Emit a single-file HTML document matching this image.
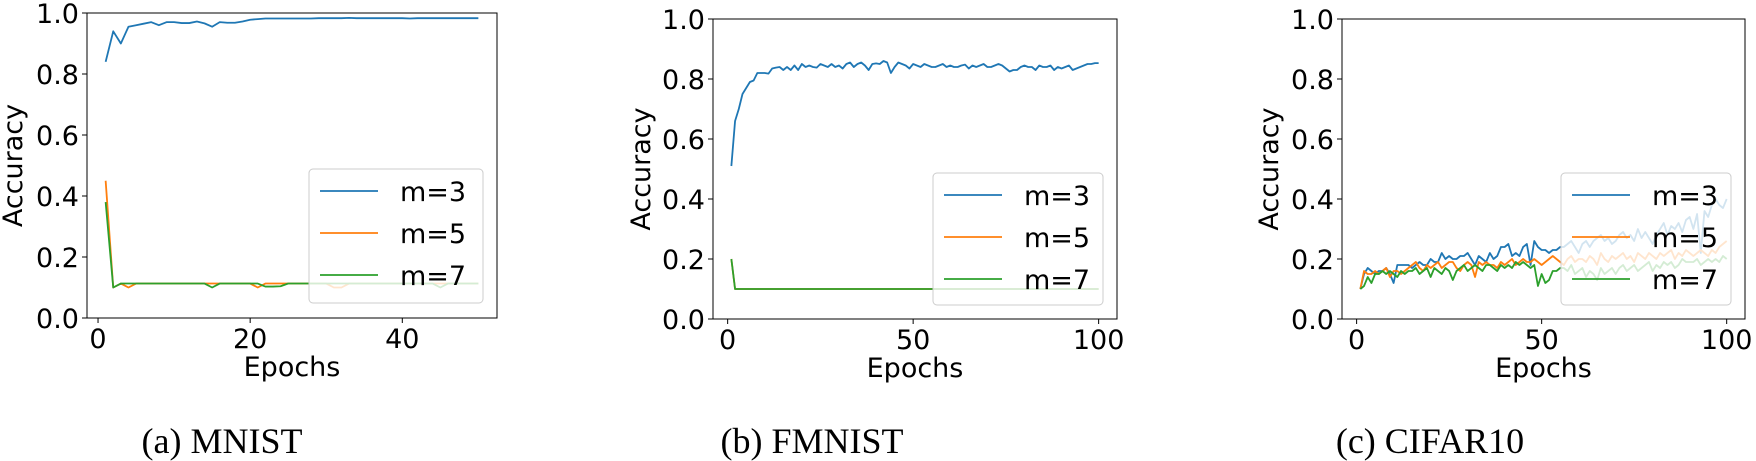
<!DOCTYPE html>
<html><head><meta charset="utf-8"><style>
html,body{margin:0;padding:0;background:#fff;}
svg{display:block;font-family:"DejaVu Sans","Liberation Sans",sans-serif;}
</style></head><body>
<svg id="fig" width="1756" height="461" viewBox="0 0 1756 461"></svg>
<script>
const labels = ["m=3","m=5","m=7"];
const colors = ["#1f77b4","#ff7f0e","#2ca02c"];
const yTicks = [0,0.2,0.4,0.6,0.8,1.0];
const xTicksA = [0,20,40];
const xTicksB = [0,50,100];
const captions = ["(a) MNIST","(b) FMNIST","(c) CIFAR10"];

const mnistM3 = [.84,.94,.90,.955,.96,.965,.97,.96,.97,.97,.967,.967,.972,.966,.955,.97,.968,.968,.972,.978,.98,.982,.982,.982,.982,.982,.982,.982,.983,.983,.983,.983,.984,.983,.983,.983,.983,.983,.983,.983,.982,.983,.983,.983,.983,.983,.983,.983,.983,.983];
const mnistM5 = [.45,.10,.113,.10,.113,.113,.113,.113,.113,.113,.113,.113,.113,.113,.113,.113,.113,.113,.113,.113,.10,.113,.113,.113,.113,.113,.113,.113,.113,.113,.10,.10,.113,.113,.113,.113,.113,.113,.113,.113,.113,.113,.113,.113,.113,.113,.113,.113,.113,.113];
const mnistM7 = [.38,.10,.113,.113,.113,.113,.113,.113,.113,.113,.113,.113,.113,.113,.10,.113,.113,.113,.113,.113,.113,.103,.103,.104,.113,.113,.113,.113,.113,.113,.113,.113,.113,.113,.113,.113,.113,.113,.113,.113,.113,.113,.113,.113,.10,.113,.113,.113,.113,.113];

const fmM3 = [.51,.66,.70,.75,.77,.79,.795,.82,.82,.82,
.818,.835,.838,.84,.83,.84,.83,.845,.83,.85,
.84,.845,.84,.838,.85,.845,.84,.85,.84,.845,
.835,.85,.855,.84,.85,.855,.845,.83,.85,.852,
.85,.86,.855,.82,.84,.855,.85,.845,.835,.85,
.845,.84,.85,.845,.84,.84,.845,.85,.84,.845,
.84,.84,.845,.848,.835,.845,.84,.845,.85,.84,
.84,.845,.85,.845,.835,.825,.83,.83,.84,.845,
.84,.84,.83,.845,.84,.84,.845,.83,.84,.835,
.84,.845,.83,.835,.84,.845,.85,.85,.853,.853];
const fmM5 = [.2,.1,.1,.1,.1,.1,.1,.1,.1,.1,.1,.1,.1,.1,.1,.1,.1,.1,.1,.1,.1,.1,.1,.1,.1,.1,.1,.1,.1,.1,.1,.1,.1,.1,.1,.1,.1,.1,.1,.1,.1,.1,.1,.1,.1,.1,.1,.1,.1,.1,.1,.1,.1,.1,.1,.1,.1,.1,.1,.1,.1,.1,.1,.1,.1,.1,.1,.1,.1,.1,.1,.1,.1,.1,.1,.1,.1,.1,.1,.1,.1,.1,.1,.1,.1,.1,.1,.1,.1,.1,.1,.1,.1,.1,.1,.1,.1,.1,.1,.1];
const fmM7 = [.2,.1,.1,.1,.1,.1,.1,.1,.1,.1,.1,.1,.1,.1,.1,.1,.1,.1,.1,.1,.1,.1,.1,.1,.1,.1,.1,.1,.1,.1,.1,.1,.1,.1,.1,.1,.1,.1,.1,.1,.1,.1,.1,.1,.1,.1,.1,.1,.1,.1,.1,.1,.1,.1,.1,.1,.1,.1,.1,.1,.1,.1,.1,.1,.1,.1,.1,.1,.1,.1,.1,.1,.1,.1,.1,.1,.1,.1,.1,.1,.1,.1,.1,.1,.1,.1,.1,.1,.1,.1,.1,.1,.1,.1,.1,.1,.1,.1,.1,.1];

const cfM3 = [.10,.15,.17,.16,.15,.16,.16,.17,.15,.12,
.18,.18,.18,.18,.17,.18,.19,.18,.18,.20,
.19,.19,.22,.20,.21,.20,.20,.21,.21,.22,
.20,.18,.21,.20,.19,.22,.20,.21,.24,.24,
.25,.21,.22,.21,.24,.25,.18,.26,.24,.23,
.23,.22,.23,.23,.24,.24,.25,.26,.24,.22,
.25,.26,.24,.26,.27,.28,.26,.27,.25,.26,
.28,.29,.27,.28,.26,.30,.27,.29,.27,.25,
.28,.30,.32,.28,.31,.30,.32,.29,.33,.34,
.30,.35,.22,.36,.34,.38,.40,.38,.37,.40];
const cfM5 = [.10,.16,.15,.15,.16,.15,.16,.17,.14,.16,
.16,.15,.16,.17,.18,.19,.17,.16,.18,.17,
.18,.19,.17,.18,.19,.19,.17,.16,.18,.19,
.18,.14,.19,.18,.19,.18,.18,.17,.19,.18,
.19,.20,.18,.19,.20,.19,.19,.20,.19,.18,
.19,.20,.21,.20,.19,.18,.20,.21,.19,.20,
.20,.19,.21,.20,.18,.22,.20,.19,.21,.20,
.21,.22,.20,.21,.19,.22,.21,.20,.22,.21,
.20,.22,.21,.22,.23,.20,.22,.21,.23,.22,
.21,.22,.23,.22,.21,.23,.22,.24,.25,.26];
const cfM7 = [.10,.11,.14,.12,.15,.15,.16,.15,.16,.15,
.14,.16,.15,.16,.16,.17,.15,.16,.17,.14,
.17,.16,.15,.17,.16,.13,.16,.17,.18,.16,
.17,.18,.17,.16,.18,.18,.17,.16,.18,.17,
.18,.17,.19,.18,.19,.18,.17,.18,.11,.15,
.12,.13,.16,.16,.17,.17,.16,.18,.15,.16,
.17,.14,.16,.15,.13,.17,.15,.16,.17,.15,
.17,.18,.16,.17,.18,.16,.17,.18,.19,.16,
.18,.17,.19,.18,.19,.17,.18,.20,.19,.19,
.19,.20,.18,.19,.20,.19,.20,.19,.21,.20];

const NS="http://www.w3.org/2000/svg";
const svg=document.getElementById('fig');
function mk(tag,attrs,parent){const e=document.createElementNS(NS,tag);for(const k in attrs)e.setAttribute(k,attrs[k]);(parent||svg).appendChild(e);return e;}

const panels=[
 {id:'mnist',L:87,R:497,T:13,B:318,series:[mnistM3,mnistM5,mnistM7],xt:xTicksA,ylx:12,cap:222,leg:{x:309,y:169,w:174,h:134}},
 {id:'fmnist',L:713,R:1117,T:19,B:319,series:[fmM3,fmM5,fmM7],xt:xTicksB,ylx:640,cap:812,leg:{x:933,y:173,w:170,h:132}},
 {id:'cifar10',L:1342,R:1745,T:19,B:319,series:[cfM3,cfM5,cfM7],xt:xTicksB,ylx:1268,cap:1430,leg:{x:1561,y:173,w:170,h:132}}
];

panels.forEach((p,pi)=>{
  const g=mk('g',{});
  
  
  const n=p.series[0].length;
  const m=(n-1)*0.05, xmin=1-m, xmax=n+m;
  const xs=v=>p.L+(v-xmin)/(xmax-xmin)*(p.R-p.L);
  const ys=v=>p.B-v*(p.B-p.T);
  p.series.forEach((s,si)=>{
    const d=s.map((v,i)=>(i?'L':'M')+xs(i+1).toFixed(2)+','+ys(v).toFixed(2)).join('');
    const pa=mk('path',{d:d,fill:'none',stroke:colors[si],'stroke-width':1.8,'stroke-linejoin':'round'},g);
    
    
  });
  const fr=mk('rect',{x:p.L,y:p.T,width:p.R-p.L,height:p.B-p.T,fill:'none',stroke:'#000','stroke-width':1},g);
  
  
  yTicks.forEach(t=>{
    const y=ys(t);
    mk('line',{x1:p.L-5,x2:p.L,y1:y,y2:y,stroke:'#000'},g);
    const tx=mk('text',{x:p.L-8,y:y+10,'font-size':27,'text-anchor':'end'},g);
    tx.textContent=t.toFixed(1);
    
    
  });
  p.xt.forEach(t=>{
    const x=xs(t);
    mk('line',{x1:x,x2:x,y1:p.B,y2:p.B+5,stroke:'#000'},g);
    const tx=mk('text',{x:x,y:p.B+30,'font-size':27,'text-anchor':'middle'},g);
    tx.textContent=t;
    
    
  });
  const xl=mk('text',{x:(p.L+p.R)/2,y:p.B+58,'font-size':27,'text-anchor':'middle'},g);
  xl.textContent='Epochs';
  
  
  const cy=(p.T+p.B)/2;
  const yl=mk('text',{x:p.ylx+10,y:cy,'font-size':27,'text-anchor':'middle',transform:`rotate(-90 ${p.ylx+10} ${cy})`},g);
  yl.textContent='Accuracy';
  
  
  const lg=mk('g',{},g);
  
  
  mk('rect',{x:p.leg.x,y:p.leg.y,width:p.leg.w,height:p.leg.h,rx:4,fill:'#fff','fill-opacity':0.8,stroke:'#ccc'},lg);
  labels.forEach((lab,i)=>{
    const ry=p.leg.y+22+i*42;
    mk('line',{x1:p.leg.x+11,x2:p.leg.x+69,y1:ry,y2:ry,stroke:colors[i],'stroke-width':1.8},lg);
    const t=mk('text',{x:p.leg.x+91,y:ry+10,'font-size':27},lg);
    t.textContent=lab;
    
    
  });
  const c=mk('text',{x:p.cap,y:453,'font-size':36,'text-anchor':'middle','font-family':'"Liberation Serif",serif'},g);
  c.textContent=captions[pi];
  
  
});
</script>
</body></html>
